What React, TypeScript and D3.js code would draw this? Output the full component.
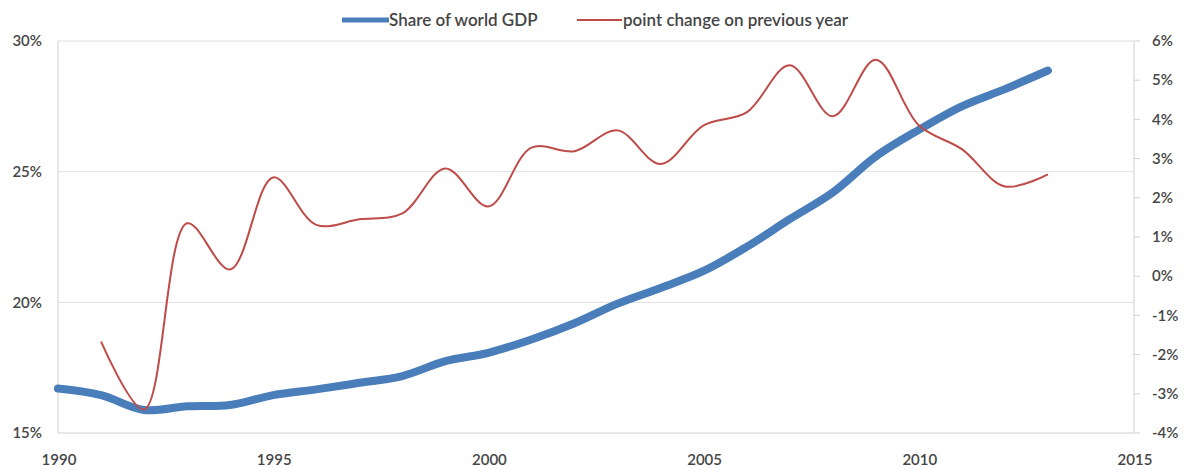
import React from "react";
import * as d3 from "d3";

// Annual data, 1990–2013
const years = [1990, 1991, 1992, 1993, 1994, 1995, 1996, 1997, 1998, 1999, 2000, 2001, 2002, 2003, 2004, 2005, 2006, 2007, 2008, 2009, 2010, 2011, 2012, 2013];
const shareOfWorldGdp = [16.7, 16.45, 15.88, 16.02, 16.07, 16.45, 16.67, 16.92, 17.18, 17.75, 18.07, 18.58, 19.2, 19.95, 20.55, 21.2, 22.12, 23.18, 24.2, 25.58, 26.6, 27.5, 28.16, 28.87];
// point change on previous year starts in 1991
const changeYears = years.slice(1);
const pointChange = [-1.67, -3.4, 1.35, 0.17, 2.52, 1.31, 1.45, 1.6, 2.75, 1.78, 3.28, 3.19, 3.72, 2.86, 3.85, 4.18, 5.38, 4.08, 5.52, 3.85, 3.24, 2.29, 2.6];

const xTicks = [1990, 1995, 2000, 2005, 2010, 2015];
const leftTicks = [15, 20, 25, 30];
const rightTicks = [-4, -3, -2, -1, 0, 1, 2, 3, 4, 5, 6];

const W = 1185;
const H = 469;
const M = { left: 58, right: 1134, top: 41, bottom: 433 };
const FONT = "Lato, 'Open Sans', sans-serif";
const TEXT = "#454545";
const BLUE = "#4a7ebb";
const RED = "#be4b48";
const GRID = "#dedede";
const AXIS = "#d0d0d0";

export default function App() {
  const x = d3.scaleLinear().domain([1990, 2015]).range([M.left, M.right]);
  const yL = d3.scaleLinear().domain([15, 30]).range([M.bottom, M.top]);
  const yR = d3.scaleLinear().domain([-4, 6]).range([M.bottom, M.top]);

  const blueLine = d3
    .line<number>()
    .x((_, i) => x(years[i]))
    .y((d) => yL(d))
    .curve(d3.curveCatmullRom.alpha(0.5));
  const redLine = d3
    .line<number>()
    .x((_, i) => x(changeYears[i]))
    .y((d) => yR(d))
    .curve(d3.curveCatmullRom.alpha(0.5));

  return (
    <svg
      width={W}
      height={H}
      style={{ position: "absolute", left: 0, top: 0, display: "block", background: "#fff" }}
      fontFamily={FONT}
    >
      {/* gridlines */}
      {leftTicks.slice(1).map((t) => (
        <line key={t} x1={M.left} x2={M.right} y1={yL(t)} y2={yL(t)} stroke={GRID} strokeWidth={1} />
      ))}
      {/* axes */}
      <line x1={M.left} x2={M.left} y1={M.top} y2={M.bottom} stroke={AXIS} strokeWidth={1} />
      <line x1={M.left} x2={M.right} y1={M.bottom} y2={M.bottom} stroke={AXIS} strokeWidth={1} />
      <line x1={M.right} x2={M.right} y1={M.top} y2={M.bottom} stroke={AXIS} strokeWidth={1} />
      {rightTicks.map((t) => (
        <line key={t} x1={M.right} x2={M.right + 6} y1={yR(t)} y2={yR(t)} stroke={AXIS} strokeWidth={1} />
      ))}

      {/* left axis labels */}
      {leftTicks.map((t) => (
        <text key={t} x={42} y={yL(t)} dy="0.35em" textAnchor="end" fontSize={15} fontWeight={600} fill={TEXT}>
          {t}%
        </text>
      ))}
      {/* right axis labels */}
      {rightTicks.map((t) => (
        <text key={t} x={1152} y={yR(t)} dy="0.35em" textAnchor="start" fontSize={15} fontWeight={600} fill={TEXT}>
          {t}%
        </text>
      ))}
      {/* x axis labels */}
      {xTicks.map((t) => (
        <text key={t} x={x(t) + 1} y={460} dy="0.35em" textAnchor="middle" fontSize={15} fontWeight={600} fill={TEXT}>
          {t}
        </text>
      ))}

      {/* series */}
      <path d={blueLine(shareOfWorldGdp) ?? ""} fill="none" stroke={BLUE} strokeWidth={8} strokeLinejoin="round" strokeLinecap="round" />
      <path d={redLine(pointChange) ?? ""} fill="none" stroke={RED} strokeWidth={2} strokeLinejoin="round" />

      {/* legend */}
      <line x1={342} x2={389} y1={20} y2={20} stroke={BLUE} strokeWidth={5} />
      <text x={389} y={20} dy="0.35em" fontSize={17} fontWeight={600} fill={TEXT}>
        Share of world GDP
      </text>
      <line x1={577} x2={622} y1={20} y2={20} stroke={RED} strokeWidth={2} />
      <text x={623} y={20} dy="0.35em" fontSize={17} fontWeight={600} fill={TEXT}>
        point change on previous year
      </text>
    </svg>
  );
}
